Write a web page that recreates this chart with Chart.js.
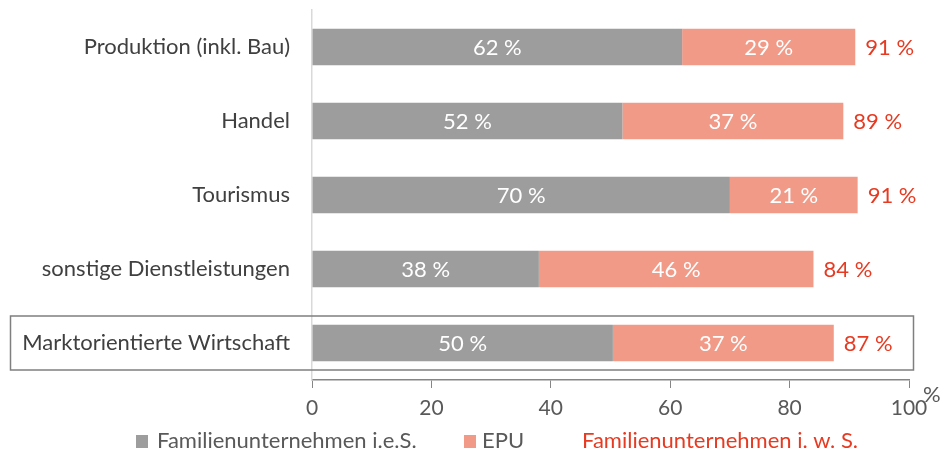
<!DOCTYPE html>
<html>
<head>
<meta charset="utf-8">
<script src="https://cdn.jsdelivr.net/npm/chart.js@4"></script>
<style>
  html, body { margin: 0; padding: 0; background: #fff; }
  #wrap { width: 941px; height: 449px; }
</style>
</head>
<body>
<div id="wrap"><canvas id="barChart"></canvas></div>
<script>
// data ------------------------------------------------------------------
var categories = ['Produktion (inkl. Bau)', 'Handel', 'Tourismus', 'sonstige Dienstleistungen', 'Marktorientierte Wirtschaft'];
var familyNarrow = [62, 52, 70, 38, 50.4];   // Familienunternehmen i.e.S.
var epu = [29, 37, 21.4, 46, 37];            // EPU
var familyWide = [91, 89, 91, 84, 87];       // Familienunternehmen i. w. S. (Summe)
var xTicks = [0, 20, 40, 60, 80, 100];
var seriesNames = ['Familienunternehmen i.e.S.', 'EPU', 'Familienunternehmen i. w. S.'];

var FONT = 'Lato';
var GREY = '#9d9d9d';
var SALMON = '#f19a87';
var RED = '#e63b22';

// labels inside + totals, box around last row, custom legend
var extras = {
    id: 'extras',
    afterDatasetsDraw: function (chart) {
        var ctx = chart.ctx;
        ctx.save();
        ctx.font = '22px ' + FONT;
        ctx.textBaseline = 'middle';
        [0, 1].forEach(function (di) {
            var meta = chart.getDatasetMeta(di);
            var vals = chart.data.datasets[di].data;
            meta.data.forEach(function (bar, i) {
                ctx.fillStyle = '#ffffff';
                ctx.textAlign = 'center';
                ctx.fillText(Math.round(vals[i]) + ' %', (bar.x + bar.base) / 2, bar.y + 1);
            });
        });
        var last = chart.getDatasetMeta(1);
        last.data.forEach(function (bar, i) {
            ctx.fillStyle = RED;
            ctx.textAlign = 'left';
            ctx.fillText(familyWide[i] + ' %', bar.x + 10, bar.y + 1);
        });
        ctx.restore();
    },
    afterDraw: function (chart) {
        var ctx = chart.ctx;
        var y = chart.scales.y;
        var x = chart.scales.x;
        ctx.save();
        // frame around Marktorientierte Wirtschaft
        var cy = y.getPixelForValue(categories.length - 1);
        ctx.strokeStyle = '#7f7f7f';
        ctx.lineWidth = 1.5;
        ctx.strokeRect(10.5, cy - 27, 903, 54);

        // % sign after axis
        ctx.font = '22px ' + FONT;
        ctx.fillStyle = '#595959';
        ctx.textAlign = 'left';
        ctx.textBaseline = 'middle';
        ctx.fillText('%', x.right + 14, 395);

        // legend
        var ly = 441;
        ctx.fillStyle = GREY;
        ctx.fillRect(136, 435, 12, 13);
        ctx.fillStyle = '#595959';
        ctx.fillText(seriesNames[0], 157, ly);
        ctx.fillStyle = SALMON;
        ctx.fillRect(464, 435, 12, 13);
        ctx.fillStyle = '#595959';
        ctx.fillText(seriesNames[1], 482, ly);
        ctx.fillStyle = RED;
        ctx.fillText(seriesNames[2], 582, ly);
        ctx.restore();
    }
};

var barChart = document.getElementById('barChart');

if (barChart) {
    var chart = new Chart(barChart, {
        type: 'bar',
        data: {
            labels: categories,
            datasets: [{
                label: seriesNames[0],
                data: familyNarrow,
                backgroundColor: GREY,
                barPercentage: 0.49,
                categoryPercentage: 1
            }, {
                label: seriesNames[1],
                data: epu,
                backgroundColor: SALMON,
                barPercentage: 0.49,
                categoryPercentage: 1
            }]
        },
        options: {
            indexAxis: 'y',
            responsive: true,
            maintainAspectRatio: false,
            animation: false,
            layout: {
                padding: { top: 10, right: 32, left: 0, bottom: 0 }
            },
            plugins: {
                legend: { display: false },
                tooltip: { enabled: false }
            },
            scales: {
                x: {
                    stacked: true,
                    min: 0,
                    max: 100,
                    afterBuildTicks: function (scale) {
                        scale.ticks = xTicks.map(function (v) { return { value: v }; });
                    },
                    afterFit: function (scale) {
                        scale.height = 69;
                    },
                    grid: {
                        drawOnChartArea: false,
                        drawTicks: true,
                        tickLength: 8,
                        color: '#868686'
                    },
                    border: { color: '#868686', width: 1.5 },
                    ticks: {
                        color: '#595959',
                        padding: 8,
                        maxRotation: 0,
                        font: { family: FONT, size: 21 }
                    }
                },
                y: {
                    stacked: true,
                    afterFit: function (scale) {
                        scale.width = 312;
                        scale.paddingTop = 0;
                        scale.paddingBottom = 0;
                    },
                    grid: { display: false, drawTicks: false },
                    border: { color: '#d9d9d9', width: 1.5 },
                    ticks: {
                        color: '#404040',
                        padding: 22,
                        font: { family: FONT, size: 22 }
                    }
                }
            }
        },
        plugins: [extras]
    });
}
</script>
</body>
</html>
